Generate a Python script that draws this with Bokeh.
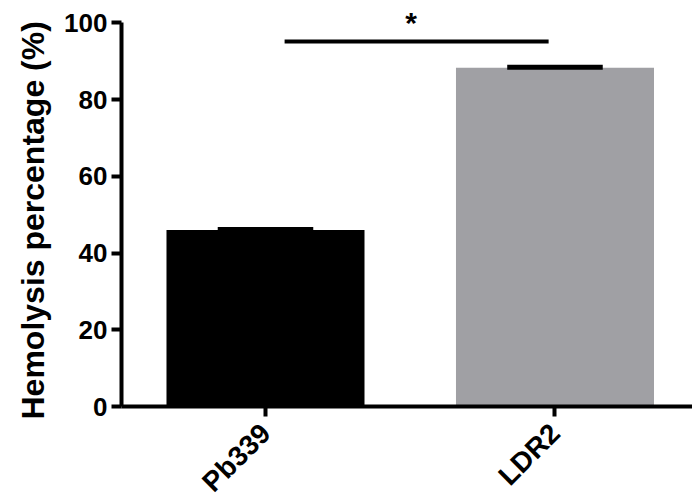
import math
from bokeh.plotting import figure
from bokeh.models import Range1d, FixedTicker, ColumnDataSource, Title
from bokeh.core.properties import value
from bokeh.embed import file_html
from bokeh.resources import INLINE

categories = ["Pb339", "LDR2"]
means = [46.0, 88.3]
sems = [0.1, 0.1]
colors = ["#000000", "#A0A0A4"]
y_ticks = [0, 20, 40, 60, 80, 100]
y_title = "Hemolysis percentage (%)"
sig_pair = [1, 2]
sig_label = "*"
sig_y = 95.1

xs = [i + 1 for i in range(len(categories))]
src = ColumnDataSource(dict(x=xs, top=means, color=colors,
                            cap=[m + s for m, s in zip(means, sems)],
                            x0=[x - 0.165 for x in xs], x1=[x + 0.165 for x in xs]))

FONT = "Liberation Sans"
p = figure(width=692, height=501, frame_width=571, frame_height=406,
           output_backend="svg", toolbar_location=None,
           x_range=Range1d(0.5026, 2.475), y_range=Range1d(0, 105.81),
           min_border_left=121, min_border_right=0, min_border_top=0, min_border_bottom=10)
p.outline_line_color = None
p.xgrid.visible = False
p.ygrid.visible = False
p.background_fill_color = "white"
p.border_fill_color = "white"

p.vbar(x="x", top="top", bottom=0, width=0.684, fill_color="color", line_color=None, source=src)
p.segment(x0="x0", x1="x1", y0="cap", y1="cap", line_color="black", line_width=5, source=src)

p.segment(x0=[sig_pair[0] + 0.066], x1=[sig_pair[1] - 0.022], y0=[sig_y], y1=[sig_y],
          line_color="black", line_width=4)
p.text(x=[sum(sig_pair) / 2 + 0.003], y=[100.1], text=[sig_label], text_align="center",
       text_baseline="alphabetic", text_font=value(FONT), text_font_size="30px",
       text_font_style="bold", text_color="black")

for ax in (p.xaxis[0], p.yaxis[0]):
    ax.axis_line_width = 4
    ax.axis_line_color = "black"
    ax.major_tick_line_width = 4
    ax.major_tick_line_color = "black"
    ax.major_tick_out = 10
    ax.major_tick_in = 0
    ax.minor_tick_line_color = None
    ax.major_label_text_font = FONT
    ax.major_label_text_font_style = "bold"
    ax.major_label_text_color = "black"

p.yaxis.ticker = FixedTicker(ticks=y_ticks)
p.yaxis.bounds = (0, 100)
p.yaxis.major_label_text_font_size = "26px"
p.yaxis.major_label_standoff = 4

p.add_layout(Title(text=y_title, align="left", offset=-13, standoff=22,
                   text_font=FONT, text_font_style="bold", text_font_size="32px",
                   text_color="black"), "left")

p.xaxis.ticker = FixedTicker(ticks=xs)
p.xaxis.major_label_overrides = {x: c for x, c in zip(xs, categories)}
p.xaxis.major_label_orientation = math.pi / 4
p.xaxis.major_label_text_font_size = "28px"
p.xaxis.major_label_standoff = 12

open("out.html", "w").write(file_html(p, INLINE))
